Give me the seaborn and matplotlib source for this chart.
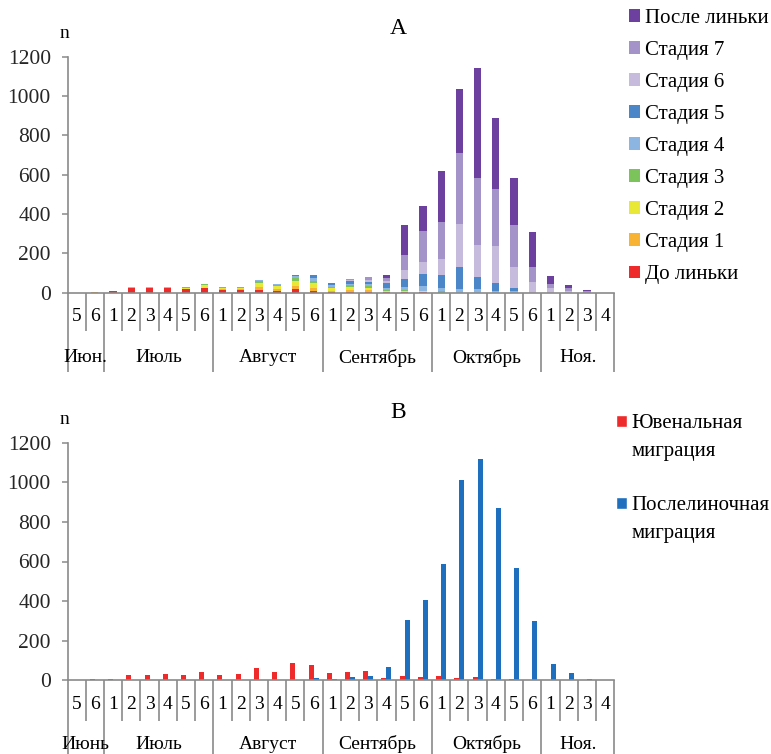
import numpy as np
import pandas as pd
import matplotlib
matplotlib.use("Agg")
import matplotlib.pyplot as plt
import seaborn as sns
from matplotlib.patches import Patch

# ---------------- data ----------------
week_labels = ["5", "6",
               "1", "2", "3", "4", "5", "6",
               "1", "2", "3", "4", "5", "6",
               "1", "2", "3", "4", "5", "6",
               "1", "2", "3", "4", "5", "6",
               "1", "2", "3", "4"]
months_a = ["Июн.", "Июль", "Август", "Сентябрь", "Октябрь", "Ноя."]
months_b = ["Июнь", "Июль", "Август", "Сентябрь", "Октябрь", "Ноя."]
month_weeks = [2, 6, 6, 6, 6, 4]

stage_names = ["До линьки", "Стадия 1", "Стадия 2", "Стадия 3", "Стадия 4",
               "Стадия 5", "Стадия 6", "Стадия 7", "После линьки"]
stage_colors = ["#ee2a2a", "#f8b334", "#e9e837", "#7dc35b", "#8db5e2",
                "#4a86c8", "#c6bbdd", "#a393c8", "#6d3f9e"]

do_linki = [0, 1, 9, 25, 25, 24, 18, 22, 15, 12, 12, 10, 20, 8, 2, 3, 5, 3, 3, 3,
            0, 0, 0, 0, 0, 0, 0, 0, 0, 0]
stage1 = [0, 1, 1, 3, 3, 3, 3, 4, 5, 7, 17, 10, 12, 15, 8, 10, 8, 3, 3, 2,
          0, 0, 0, 0, 0, 0, 0, 0, 0, 0]
stage2 = [0, 2, 1, 1, 1, 2, 3, 13, 6, 7, 22, 12, 27, 25, 13, 15, 12, 4, 3, 2,
          0, 0, 0, 0, 0, 0, 0, 0, 0, 0]
stage3 = [0, 0, 0, 0, 0, 0, 3, 6, 4, 2, 8, 7, 14, 14, 8, 10, 8, 5, 5, 4,
          7, 0, 0, 0, 0, 0, 0, 0, 0, 0]
stage4 = [0, 0, 0, 0, 0, 0, 0, 0, 1, 1, 5, 5, 10, 12, 8, 8, 10, 10, 14, 22,
          19, 20, 20, 8, 7, 0, 0, 0, 0, 0]
stage5 = [0, 0, 0, 0, 0, 0, 0, 0, 0, 0, 3, 2, 8, 15, 9, 14, 12, 25, 44, 61,
          63, 112, 58, 42, 19, 0, 0, 0, 0, 0]
stage6 = [0, 0, 0, 0, 0, 0, 0, 0, 0, 0, 0, 0, 0, 0, 0, 4, 10, 10, 42, 64,
          80, 219, 166, 188, 103, 53, 22, 10, 0, 0]
stage7 = [0, 0, 0, 0, 0, 0, 0, 0, 0, 0, 0, 0, 0, 0, 0, 4, 13, 17, 76, 155,
          193, 359, 341, 290, 217, 78, 22, 12, 8, 0]
posle_linki = [0, 0, 0, 0, 0, 0, 0, 0, 0, 0, 0, 0, 0, 0, 0, 3, 3, 15, 153, 129,
               259, 327, 559, 361, 239, 176, 39, 19, 7, 0]
stage_values = [do_linki, stage1, stage2, stage3, stage4, stage5, stage6, stage7, posle_linki]

juvenile = [0, 5, 8, 29, 29, 30, 25, 42, 29, 32, 62, 44, 87, 75, 35, 44, 47, 13, 24, 17,
            22, 13, 17, 5, 5, 0, 0, 0, 0, 0]
postmolt = [0, 0, 0, 0, 0, 0, 0, 0, 0, 0, 3, 0, 3, 12, 8, 17, 24, 66, 303, 408,
            585, 1012, 1118, 870, 568, 302, 80, 36, 9, 0]
series_names = ["Ювенальная миграция", "Послелиночная миграция"]
series_colors = ["#ee2a2a", "#1f6fbf"]

# ---------------- style ----------------
sns.set_theme(style="white")
plt.rcParams["font.family"] = ["Liberation Serif", "DejaVu Serif"]
plt.rcParams["text.color"] = "black"
GRAY = "#8a8a8a"
FS = 14
FS_Y = 15.5
FS_LEG = 15

W, H = 771, 754
fig = plt.figure(figsize=(W / 100, H / 100), dpi=100)

def px_axes(left, right, top, bottom):
    return fig.add_axes([left / W, 1 - bottom / H, (right - left) / W, (bottom - top) / H])

ax1 = px_axes(67.5, 614.3, 56.7, 292.7)
ax2 = px_axes(67.5, 614.3, 442.7, 680.3)

n = len(week_labels)
pos = np.arange(n)

# ---- chart A: stacked bars ----
bottom = np.zeros(n)
for name, vals, col in zip(stage_names, stage_values, stage_colors):
    vals = np.asarray(vals, dtype=float)
    df = pd.DataFrame({"pos": pos, "n": vals})
    sns.barplot(data=df, x="pos", y="n", color=col, saturation=1, width=0.4,
                errorbar=None, bottom=bottom.copy(), label=name, ax=ax1,
                linewidth=0)
    bottom += vals

# ---- chart B: grouped bars ----
dfb = pd.DataFrame({
    "pos": np.concatenate([pos, pos]),
    "n": np.concatenate([juvenile, postmolt]).astype(float),
    "series": [series_names[0]] * n + [series_names[1]] * n,
})
sns.barplot(data=dfb, x="pos", y="n", hue="series", hue_order=series_names,
            palette=series_colors, saturation=1, width=0.55, gap=0,
            errorbar=None, ax=ax2, legend=False, linewidth=0)


def style_axis(ax, months, short_px, long_px, num_off, month_off):
    ax.set_xlim(-0.5, n - 0.5)
    ax.set_ylim(0, 1200)
    ax.set_yticks(np.arange(0, 1201, 200))
    ax.set_xlabel("")
    ax.set_ylabel("")
    sns.despine(ax=ax)
    for s in ["left", "bottom"]:
        ax.spines[s].set_color(GRAY)
        ax.spines[s].set_linewidth(1.2)
    ax.tick_params(axis="y", length=4, width=1.1, color=GRAY, pad=8.0,
                   labelsize=FS_Y, left=True, direction="out")
    ax.tick_params(axis="x", length=0, labelbottom=False)
    ax_h = ax.get_position().height * H
    trans = ax.get_xaxis_transform()
    bounds = np.cumsum([0] + month_weeks) - 0.5
    for b in np.arange(n + 1) - 0.5:
        depth = long_px if np.any(np.isclose(bounds, b)) else short_px
        ax.plot([b, b], [0, -depth / ax_h], transform=trans, clip_on=False,
                color=GRAY, lw=1.2, solid_capstyle="butt")
    for i, lab in enumerate(week_labels):
        ax.annotate(lab, xy=(i, 0), xycoords=trans, xytext=(0, -num_off),
                    textcoords="offset pixels", ha="center", va="center",
                    fontsize=FS, annotation_clip=False)
    for k, mname in enumerate(months):
        c = (bounds[k] + bounds[k + 1]) / 2
        ax.annotate(mname, xy=(c, 0), xycoords=trans, xytext=(0, -month_off),
                    textcoords="offset pixels", ha="center", va="center",
                    fontsize=FS, annotation_clip=False)


style_axis(ax1, months_a, 38, 79, 24, 65)
style_axis(ax2, months_b, 41, 80, 24, 64)

# labels and titles
fig.text(64 / W, 1 - 34 / H, "n", ha="center", va="center", fontsize=FS)
fig.text(64 / W, 1 - 420 / H, "n", ha="center", va="center", fontsize=FS)
fig.text(398 / W, 1 - 29 / H, "A", ha="center", va="center", fontsize=17)
fig.text(398 / W, 1 - 413 / H, "B", ha="center", va="center", fontsize=17)

# legend A
h, l = ax1.get_legend_handles_labels()
ax1.legend(h[::-1], l[::-1], loc="upper left",
           bbox_to_anchor=(629 / W, 1 - 9.0 / H), bbox_transform=fig.transFigure,
           frameon=False, borderpad=0, borderaxespad=0, handlelength=0.55,
           handleheight=0.55, handletextpad=0.2, labelspacing=0.625, fontsize=FS_LEG)

# legend B
hb = [Patch(facecolor=series_colors[0]), Patch(alpha=0), Patch(alpha=0),
      Patch(facecolor=series_colors[1]), Patch(alpha=0)]
lb = ["Ювенальная", "миграция", "", "Послелиночная", "миграция"]
ax2.legend(hb, lb, loc="upper left",
           bbox_to_anchor=(616 / W, 1 - 414.5 / H), bbox_transform=fig.transFigure,
           frameon=False, borderpad=0, borderaxespad=0, handlelength=0.55,
           handleheight=0.55, handletextpad=0.2, labelspacing=0.4, fontsize=FS_LEG)

fig.savefig("out.png", dpi=100)
